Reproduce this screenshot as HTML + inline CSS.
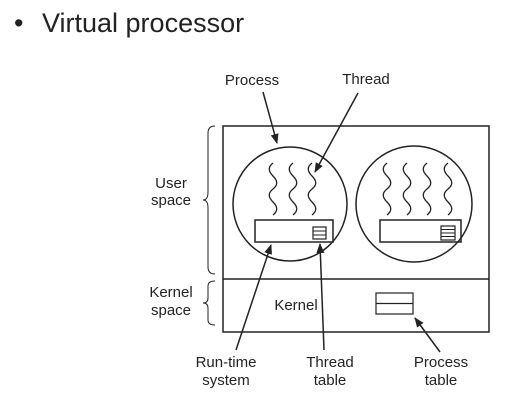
<!DOCTYPE html>
<html><head><meta charset="utf-8"><style>
body{margin:0;width:506px;height:400px;background:#fff;overflow:hidden;font-family:"Liberation Sans",Arial,sans-serif}
</style></head><body>
<svg width="506" height="400" viewBox="0 0 506 400" xmlns="http://www.w3.org/2000/svg" font-family="Liberation Sans, Arial, sans-serif">
<defs><marker id="a" markerWidth="10" markerHeight="8" refX="9" refY="4" orient="auto" markerUnits="userSpaceOnUse"><path d="M0,0 L10,4 L0,8 z" fill="#222"/></marker>
<path id="sq" d="M0,0 c-5,4 -5,8 0,13 c5,5 5,9 0,13 c-5,4 -5,8 0,13 c5,5 5,9 0,13" fill="none" stroke="#222" stroke-width="1.3"/></defs>
<text x="14" y="32" font-size="27" fill="#222">•</text>
<text x="42" y="32" font-size="27" fill="#222">Virtual processor</text>
<g stroke="#222" fill="none" stroke-width="1.5">
<rect x="223" y="126" width="266" height="206"/>
<line x1="223" y1="279" x2="489" y2="279"/>
<circle cx="290" cy="204" r="57"/>
<circle cx="414" cy="204" r="58"/>
<rect x="255" y="220" width="78" height="22"/>
<rect x="380" y="220" width="81" height="22"/>
<rect x="313" y="227" width="13" height="12" stroke-width="1.2"/>
<path d="M313,231 h13 M313,235 h13" stroke-width="1"/>
<rect x="441" y="226" width="14" height="14" stroke-width="1.2"/>
<path d="M441,229.5 h14 M441,233 h14 M441,236.5 h14" stroke-width="1"/>
<rect x="376" y="293" width="37" height="21" stroke-width="1.2"/>
<line x1="376" y1="303.5" x2="413" y2="303.5" stroke-width="1.2"/>
<path d="M215,126 q-7,0 -7,7 v59 q0,8 -5,8 q5,0 5,8 v59 q0,7 7,7" stroke-width="1"/>
<path d="M215,281 q-7,0 -7,5 v12 q0,5 -5,5 q5,0 5,5 v12 q0,5 7,5" stroke-width="1"/>
</g>
<g>
<use href="#sq" x="273" y="163"/><use href="#sq" x="293" y="163"/><use href="#sq" x="312" y="163"/>
<use href="#sq" x="387" y="163"/><use href="#sq" x="407" y="163"/><use href="#sq" x="427" y="163"/><use href="#sq" x="448" y="163"/>
</g>
<g stroke="#222" stroke-width="1.5" marker-end="url(#a)">
<line x1="263" y1="92" x2="277" y2="143"/>
<line x1="358" y1="93" x2="315" y2="172"/>
<line x1="236" y1="350" x2="271" y2="245"/>
<line x1="324" y1="350" x2="320" y2="244"/>
<line x1="440" y1="352" x2="415" y2="318"/>
</g>
<g font-size="15" fill="#222" text-anchor="middle">
<text x="252" y="85">Process</text>
<text x="366" y="84">Thread</text>
<text x="171" y="188">User</text><text x="171" y="205">space</text>
<text x="171" y="297">Kernel</text><text x="171" y="315">space</text>
<text x="296" y="310">Kernel</text>
<text x="226" y="367">Run-time</text><text x="226" y="385">system</text>
<text x="330" y="367">Thread</text><text x="330" y="385">table</text>
<text x="441" y="367">Process</text><text x="441" y="385">table</text>
</g>
</svg>
</body></html>
